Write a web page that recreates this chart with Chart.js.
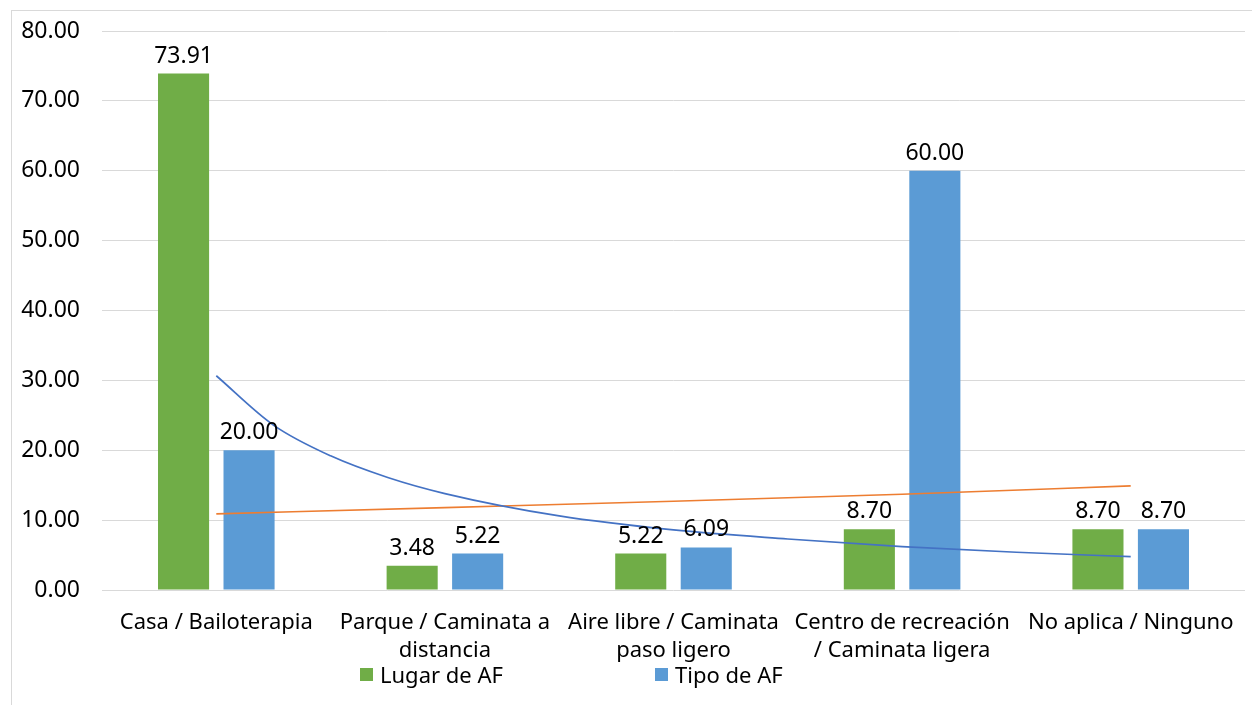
<!DOCTYPE html>
<html>
<head>
<meta charset="utf-8">
<script src="https://cdn.jsdelivr.net/npm/chart.js@4.4.1/dist/chart.umd.min.js"></script>
<style>
  html, body { margin: 0; padding: 0; background: #fff; }
  #wrap { position: relative; width: 1252px; height: 705px; overflow: hidden; }
  #frame { position: absolute; left: 11px; top: 10px; width: 1400px; height: 900px;
           border-left: 1px solid #d9d9d9; border-top: 1px solid #d9d9d9; }
  #chart { position: absolute; left: 0; top: 0; }
  .legend-item { position: absolute; top: 659px; font: 22px "Noto Sans", sans-serif; color: #000;
                 display: flex; align-items: center; white-space: nowrap; }
  .legend-item span.box { display: inline-block; width: 13px; height: 13px; margin-right: 7px; }
</style>
</head>
<body>
<div id="wrap">
  <div id="frame"></div>
  <canvas id="chart" width="1252" height="705"></canvas>
  <div id="legend"></div>
</div>
<script>
var categories = [
  "Casa / Bailoterapia",
  ["Parque / Caminata a", "distancia"],
  ["Aire libre / Caminata", "paso ligero"],
  ["Centro de recreación", "/ Caminata ligera"],
  "No aplica / Ninguno"
];
var lugarAF = [73.91, 3.48, 5.22, 8.70, 8.70];
var tipoAF = [20.00, 5.22, 6.09, 60.00, 8.70];

// trendlines (x = category index)
var trendBlueX = [0, 0.25, 0.5, 0.75, 1, 1.5, 2, 2.5, 3, 3.5, 4];
var trendBlueY = [30.66, 23.6, 19.2, 16.1, 13.8, 10.6, 8.6, 7.3, 6.2, 5.4, 4.77];
var trendOrangeX = [0, 1, 2, 3, 4];
var trendOrangeY = [10.9, 11.8, 12.7, 13.7, 14.9];

var yTicks = [0, 10, 20, 30, 40, 50, 60, 70, 80];

var colors = { green: "#70ad47", blue: "#5b9bd5", trendBlue: "#4472c4", orange: "#ed7d31", grid: "#d9d9d9" };
var fontFamily = '"Noto Sans", sans-serif';

function toPoints(xs, ys) {
  var pts = [];
  for (var i = 0; i < xs.length; i++) pts.push({ x: xs[i], y: ys[i] });
  return pts;
}

// value labels above the bars
var barLabels = {
  id: "barLabels",
  afterDatasetsDraw: function(chart) {
    var ctx = chart.ctx;
    ctx.save();
    ctx.font = "23px " + fontFamily;
    ctx.fillStyle = "#000";
    ctx.textAlign = "center";
    ctx.textBaseline = "alphabetic";
    chart.data.datasets.forEach(function(ds, di) {
      if (ds.type !== "bar") return;
      var meta = chart.getDatasetMeta(di);
      meta.data.forEach(function(bar, i) {
        ctx.fillText(ds.data[i].toFixed(2), bar.x, bar.y - 11);
      });
    });
    ctx.restore();
  }
};

// the bar ruler picks up the half-step trend points, so the group width is doubled here
var barOpts = { categoryPercentage: 1.146, barPercentage: 0.78 };

var chart = new Chart(document.getElementById("chart").getContext("2d"), {
  data: {
    labels: categories,
    datasets: [
      { type: "line", label: "trend1", data: toPoints(trendBlueX, trendBlueY), xAxisID: "xt",
        borderColor: colors.trendBlue, borderWidth: 1.7, pointRadius: 0, fill: false,
        cubicInterpolationMode: "monotone", order: 0 },
      { type: "line", label: "trend2", data: toPoints(trendOrangeX, trendOrangeY), xAxisID: "xt",
        borderColor: colors.orange, borderWidth: 1.7, pointRadius: 0, fill: false,
        cubicInterpolationMode: "monotone", order: 0 },
      { type: "bar", label: "Lugar de AF", data: lugarAF, backgroundColor: colors.green,
        categoryPercentage: barOpts.categoryPercentage, barPercentage: barOpts.barPercentage, order: 1 },
      { type: "bar", label: "Tipo de AF", data: tipoAF, backgroundColor: colors.blue,
        categoryPercentage: barOpts.categoryPercentage, barPercentage: barOpts.barPercentage, order: 1 }
    ]
  },
  options: {
    responsive: false,
    animation: false,
    layout: { padding: { top: 31, right: 7, left: 0, bottom: 0 } },
    plugins: { legend: { display: false }, tooltip: { enabled: false } },
    scales: {
      x: {
        type: "category",
        offset: true,
        grid: { display: false },
        border: { display: false },
        ticks: { color: "#000", font: { family: fontFamily, size: 22, lineHeight: 1.27 }, padding: 11,
                 maxRotation: 0, autoSkip: false },
        afterFit: function(scale) { scale.height = 115; }
      },
      xt: {
        type: "linear",
        display: false,
        min: -0.5,
        max: 4.5
      },
      y: {
        min: 0,
        max: 80,
        afterBuildTicks: function(scale) {
          scale.ticks = yTicks.map(function(v) { return { value: v }; });
        },
        grid: { color: colors.grid, lineWidth: 1, drawTicks: false },
        border: { display: false },
        ticks: { color: "#000", font: { family: fontFamily, size: 23 }, padding: 22,
                 callback: function(v) { return Number(v).toFixed(2); } },
        afterFit: function(scale) {
          scale.width = 102;
          // tick padding should not push the plot down
          scale.paddingTop = 0;
          scale.paddingBottom = 0;
        }
      }
    }
  },
  plugins: [barLabels]
});

// legend, built from the bar datasets
var legendLeft = [360, 655];
var legendEl = document.getElementById("legend");
chart.data.datasets.filter(function(d) { return d.type === "bar"; }).forEach(function(d, i) {
  var item = document.createElement("div");
  item.className = "legend-item";
  item.style.left = legendLeft[i] + "px";
  item.innerHTML = '<span class="box" style="background:' + d.backgroundColor + '"></span>' + d.label;
  legendEl.appendChild(item);
});
</script>
</body>
</html>
